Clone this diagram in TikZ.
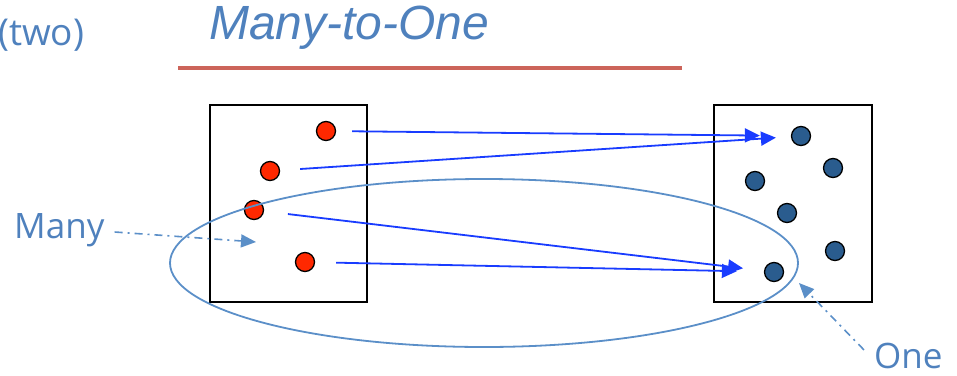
\documentclass[tikz,border=0pt]{standalone}
\usepackage{fontspec}
\setmainfont{Open Sans}
\newfontfamily\titlefont{Liberation Sans}
\usetikzlibrary{arrows.meta}

\definecolor{labelblue}{RGB}{79,129,189}
\definecolor{ringblue}{RGB}{91,143,200}
\definecolor{arrowblue}{RGB}{25,60,255}
\definecolor{dotred}{RGB}{255,40,0}
\definecolor{dotnavy}{RGB}{42,92,142}
\definecolor{rulered}{RGB}{204,100,90}

\tikzstyle{setbox} = [draw=black, line width=2pt]
\tikzstyle{reddot} = [circle, draw=black, fill=dotred, line width=1.3pt,
    inner sep=0pt, minimum size=19pt]
\tikzstyle{bluedot} = [circle, draw=black, fill=dotnavy, line width=1.3pt,
    inner sep=0pt, minimum size=19pt]
\tikzstyle{line} = [draw=arrowblue, line width=1.8pt,
    -{Triangle[length=15pt, width=14pt]}]
\tikzstyle{pointer} = [draw=ringblue, line width=1.6pt, dash pattern=on 8pt off 5pt on 2pt off 5pt,
    -{Triangle[length=15pt, width=13pt]}]
\tikzstyle{label} = [text=labelblue, inner sep=0pt, font=\fontsize{35}{38}\selectfont]

\begin{document}
\begin{tikzpicture}[x=1pt, y=-1pt]
    \useasboundingbox (0,0) rectangle (957,375);

    % heading
    \node [label, anchor=west, font=\fontsize{37}{40}\selectfont] (Two) at (-2,35) {(two)};
    \node [text=labelblue, anchor=west, inner sep=0pt,
        font=\titlefont\itshape\fontsize{48}{52}\selectfont] (Title) at (209,28) {Many-to-One};
    \draw [rulered, line width=4.5pt] (178,68) -- (682,68);

    % the two sets
    \draw [setbox] (210,105) rectangle (367,302);
    \draw [setbox] (714,105) rectangle (872,302);

    \node [reddot] (R1) at (326,131) {};
    \node [reddot] (R2) at (270,171) {};
    \node [reddot] (R3) at (254,210) {};
    \node [reddot] (R4) at (305,262) {};

    \node [bluedot] (B1) at (801,136) {};
    \node [bluedot] (B2) at (833,168) {};
    \node [bluedot] (B3) at (755,181) {};
    \node [bluedot] (B4) at (787,213) {};
    \node [bluedot] (B5) at (835,251) {};
    \node [bluedot] (B6) at (774,272) {};

    % the many
    \draw [ringblue, line width=1.8pt] (484,263) ellipse (314 and 84);

    % mapping
    \path [line, shorten <=16pt, shorten >=31pt] (R1) -- (B1);
    \path [line, shorten <=20pt, shorten >=15pt] (R2) -- (B1);
    \path [line, shorten <=24pt, shorten >=21pt] (R3) -- (B6);
    \path [line, shorten <=21pt, shorten >=27pt] (R4) -- (B6);

    % labels
    \node [label, anchor=west] (Many) at (14,230) {Many};
    \node [label, anchor=west] (One) at (874,356) {One};
    \coordinate (ManyTip) at (256,242);
    \coordinate (OneTip) at (799,283);
    \path [pointer] (Many.east) ++(10pt,-2pt) -- (ManyTip);
    \path [pointer] (One.north west) ++(-10pt,-7pt) -- (OneTip);
\end{tikzpicture}
\end{document}
